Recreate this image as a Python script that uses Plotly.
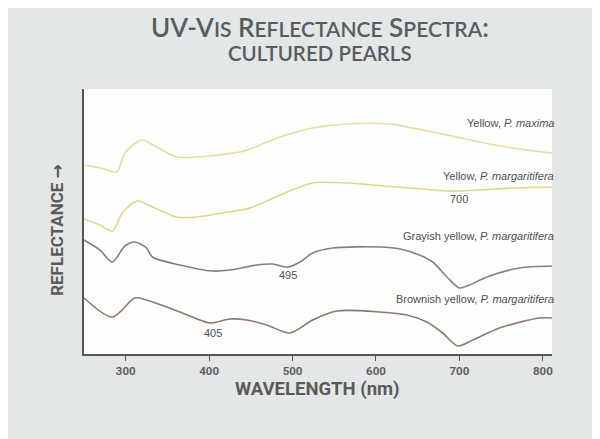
import plotly.graph_objects as go

# ---- data (wavelength in nm, reflectance in arbitrary units) ----
wl_max = [250, 270, 289, 299, 319, 337, 361, 385, 437, 452, 485, 524, 565, 617, 644, 685, 724, 764, 811]
r_max = [189, 186, 182, 201, 214, 207, 197, 197, 202, 206, 217, 226, 230, 230, 226, 219, 212, 206, 201]

wl_ymarg = [250, 269, 284, 296, 314, 332, 361, 385, 416, 449, 485, 524, 565, 625, 685, 700, 724, 764, 811]
r_ymarg = [135, 129, 123, 141, 153, 147, 137, 137, 141, 146, 159, 171, 171, 167, 163, 163, 164, 166, 167]

wl_gray = [250, 269, 284, 299, 311, 325, 332, 365, 404, 425, 457, 476, 494, 509, 524, 548, 605, 629, 652, 668,
           685, 700, 712, 733, 772, 811]
r_gray = [114, 104, 92, 108, 112, 106, 97, 89, 83, 84, 89, 90, 87, 92, 101, 106, 107, 105, 99, 92,
          77, 66, 69, 77, 86, 88]

wl_brown = [250, 284, 311, 325, 365, 401, 425, 445, 469, 497, 524, 553, 605, 637, 661, 680, 698, 716, 748, 796, 811]
r_brown = [56, 37, 56, 54, 42, 31, 35, 34, 29, 21, 34, 43, 42, 39, 32, 21, 8, 14, 26, 36, 36]

tick_vals = [300, 400, 500, 600, 700, 800]
tick_text = ["300", "400", "500", "600", "700", "800"]

series = [
    ("Yellow, P. maxima", wl_max, r_max, "#e6dc9e"),
    ("Yellow, P. margaritifera", wl_ymarg, r_ymarg, "#e2d588"),
    ("Grayish yellow, P. margaritifera", wl_gray, r_gray, "#84807f"),
    ("Brownish yellow, P. margaritifera", wl_brown, r_brown, "#8c7974"),
]

labels = [
    ("Yellow, <i>P. maxima</i>", 231),
    ("Yellow, <i>P. margaritifera</i>", 178),
    ("Grayish yellow, <i>P. margaritifera</i>", 118),
    ("Brownish yellow, <i>P. margaritifera</i>", 55),
]
peak_marks = [(700, 155, "700"), (495, 79, "495"), (405, 21, "405")]

COND = "Roboto, DejaVu Sans, sans-serif"
TXT = "Liberation Sans, Arial, sans-serif"

fig = go.Figure()
for name, x, y, c in series:
    fig.add_trace(go.Scatter(x=x, y=y, mode="lines", name=name,
                             line=dict(color=c, width=1.6, shape="spline", smoothing=0.8),
                             hoverinfo="skip"))

ann = []
for t, yv in labels:
    ann.append(dict(x=1.0, xref="paper", y=yv, yref="y", text=t, showarrow=False,
                    xanchor="right", yanchor="middle", xshift=4,
                    font=dict(family=TXT, size=11, color="#505050")))
for xv, yv, t in peak_marks:
    ann.append(dict(x=xv, y=yv, text=t, showarrow=False, xanchor="center", yanchor="middle",
                    font=dict(family=TXT, size=11, color="#505050")))

S = "font-size:21px"
ann.append(dict(x=0.504, y=1.235, xref="paper", yref="paper", showarrow=False,
                xanchor="center", yanchor="middle",
                text=f"UV-V<span style='{S}'>IS</span> R<span style='{S}'>EFLECTANCE</span> "
                     f"S<span style='{S}'>PECTRA</span>:",
                font=dict(family="Lato, Open Sans, sans-serif", size=26, color="#575d5d", weight=600)))
ann.append(dict(x=0.504, y=1.135, xref="paper", yref="paper", showarrow=False,
                xanchor="center", yanchor="middle",
                text="CULTURED PEARLS",
                font=dict(family="Lato, Open Sans, sans-serif", size=20.5, color="#575d5d", weight=600)))
ann.append(dict(x=0.499, y=-0.132, xref="paper", yref="paper", showarrow=False,
                xanchor="center", yanchor="middle",
                text="WAVELENGTH (nm)",
                font=dict(family=COND, size=18.5, color="#5a5a5a", weight=700)))
ann.append(dict(x=-0.058, y=0.468, xref="paper", yref="paper", showarrow=False, textangle=-90,
                xanchor="center", yanchor="middle",
                text="REFLECTANCE \u2192",
                font=dict(family=COND, size=17, color="#5a5a5a", weight=700)))

fig.update_layout(
    width=600, height=439, autosize=False,
    margin=dict(l=76, r=56, t=81, b=93),
    paper_bgcolor="#e3e7e7", plot_bgcolor="#fdfdfb",
    showlegend=False, annotations=ann,
    xaxis=dict(range=[250, 811], tickvals=tick_vals, ticktext=tick_text,
               ticks="outside", ticklen=5, tickwidth=1.2, tickcolor="#555555",
               showline=True, linecolor="#555555", linewidth=1.5,
               showgrid=False, zeroline=False,
               tickfont=dict(family=COND, size=11.5, color="#5f5f5f", weight=700)),
    yaxis=dict(range=[0, 265], showticklabels=False, ticks="",
               showline=True, linecolor="#555555", linewidth=1.5,
               showgrid=False, zeroline=False),
)

fig.write_html("out.html")
